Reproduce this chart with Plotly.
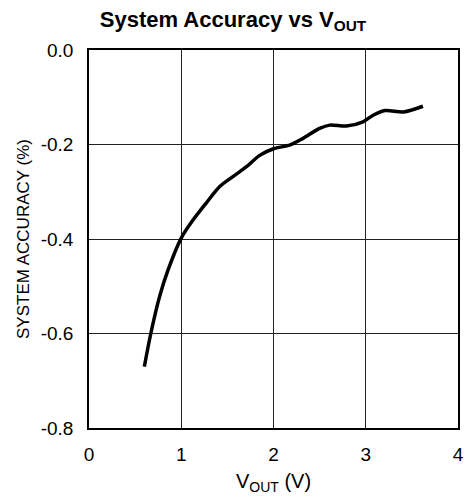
import plotly.graph_objects as go

# Data
vout = [0.60, 0.67, 0.765, 0.856, 1.0, 1.127, 1.27, 1.417, 1.56, 1.707, 1.85, 2.0, 2.18, 2.32, 2.50, 2.61, 2.79, 2.97, 3.08, 3.21, 3.41, 3.62]
accuracy = [-0.670, -0.600, -0.522, -0.466, -0.398, -0.360, -0.324, -0.289, -0.268, -0.247, -0.223, -0.209, -0.201, -0.187, -0.166, -0.159, -0.161, -0.152, -0.138, -0.128, -0.131, -0.119]

x_ticks = [0, 1, 2, 3, 4]
y_ticks = [-0.8, -0.6, -0.4, -0.2, 0.0]
y_tick_labels = ["-0.8", "-0.6", "-0.4", "-0.2", "0.0"]

FONT = "Liberation Sans, Arial, sans-serif"

fig = go.Figure()
fig.add_trace(go.Scatter(
    x=vout, y=accuracy, mode="lines",
    line=dict(color="black", width=3.5, shape="spline", smoothing=0.8),
    showlegend=False, hoverinfo="skip",
))

fig.update_layout(
    width=466, height=498,
    margin=dict(l=89, r=8, t=50, b=70, autoexpand=False),
    paper_bgcolor="white", plot_bgcolor="white",
    font=dict(family=FONT, color="black", size=19),
    title=dict(
        text="<b>System Accuracy vs V<sub>OUT</sub></b>",
        x=0.5, xanchor="center", y=0.962, yanchor="middle",
        font=dict(family=FONT, size=22, color="black"),
    ),
)
fig.update_xaxes(
    range=[0, 4], tickvals=x_ticks, ticktext=[str(v) for v in x_ticks],
    showgrid=True, gridcolor="#222", gridwidth=1,
    showline=True, linecolor="black", linewidth=1.5, mirror=True,
    zeroline=False, ticks="", tickfont=dict(size=19), ticklabelstandoff=8,
    title=dict(text="V<sub>OUT</sub> (V)", font=dict(size=20), standoff=10),
)
fig.update_yaxes(
    range=[-0.8, 0.0], tickvals=y_ticks, ticktext=y_tick_labels,
    showgrid=True, gridcolor="#222", gridwidth=1,
    showline=True, linecolor="black", linewidth=1.5, mirror=True,
    zeroline=False, ticks="", tickfont=dict(size=19), ticklabelstandoff=10,
    title=dict(text="SYSTEM ACCURACY (%)", font=dict(size=17), standoff=7),
)

fig.write_html("out.html", config={"displayModeBar": False},
               post_script="document.body.style.margin='0';")
